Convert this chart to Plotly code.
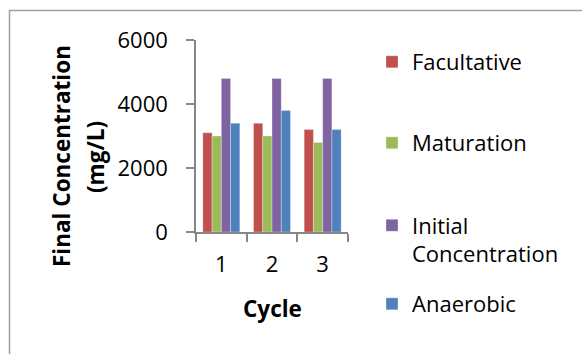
import plotly.graph_objects as go

cycles = ["1", "2", "3"]
series_names = ["Facultative", "Maturation", "Initial<br>Concentration", "Anaerobic"]
series_colors = ["#C0504D", "#9BBB59", "#8064A2", "#4F81BD"]
facultative = [3100, 3400, 3200]
maturation = [3000, 3000, 2800]
initial_conc = [4800, 4800, 4800]
anaerobic = [3400, 3800, 3200]
series_values = [facultative, maturation, initial_conc, anaerobic]

W, H = 582, 354
L, R, T, B = 196, 234, 40, 122
pw, ph = W - L - R, H - T - B

def px_x(x):
    return (x - L) / pw

def px_y(y):
    return (H - B - y) / ph

FONT = "Open Sans"
TXT = 22

fig = go.Figure()
legend_y = [62, 143, 240, 304]
legend_names = ["legend", "legend2", "legend3", "legend4"]
for name, color, vals, lg in zip(series_names, series_colors, series_values, legend_names):
    fig.add_trace(go.Bar(
        x=cycles, y=vals, name=name, legend=lg,
        marker=dict(color=color, line=dict(color="rgba(255,255,255,0.6)", width=0.5)),
    ))

legend_common = dict(
    xanchor="left", yanchor="middle", bgcolor="rgba(0,0,0,0)",
    font=dict(family=FONT, size=TXT, color="#000000"), valign="top",
)
layout_legends = {}
for lg, yy in zip(legend_names, legend_y):
    layout_legends[lg] = dict(x=px_x(372), y=px_y(yy), **legend_common)

fig.update_layout(
    width=W, height=H,
    margin=dict(l=L, r=R, t=T, b=B, autoexpand=False),
    paper_bgcolor="white", plot_bgcolor="white",
    barmode="group", bargap=0.27, bargroupgap=0,
    showlegend=True,
    font=dict(family=FONT, size=TXT, color="#000000"),
    xaxis=dict(
        type="category", showgrid=False, showline=True, linecolor="#868686", linewidth=1.5,
        ticks="outside", tickson="boundaries", ticklen=8, tickcolor="#868686", tickwidth=1.5,
        tickfont=dict(family=FONT, size=TXT), ticklabelstandoff=12,
    ),
    yaxis=dict(
        range=[0, 6000], dtick=2000, showgrid=False, zeroline=False,
        showline=True, linecolor="#868686", linewidth=1.5,
        ticks="outside", ticklen=8, tickcolor="#868686", tickwidth=1.5,
        tickfont=dict(family=FONT, size=TXT), ticklabelstandoff=14,
    ),
    **layout_legends,
)

# Axis titles
title_font = dict(family=FONT, size=22.5, color="#000000")
fig.add_annotation(text="<b>Final Concentration</b>", x=px_x(61), y=px_y(156), xref="paper", yref="paper",
                   xanchor="center", yanchor="middle", textangle=-90, showarrow=False, font=title_font)
fig.add_annotation(text="<b>(mg/L)</b>", x=px_x(95), y=px_y(157), xref="paper", yref="paper",
                   xanchor="center", yanchor="middle", textangle=-90, showarrow=False, font=title_font)
fig.add_annotation(text="<b>Cycle</b>", x=px_x(272), y=px_y(308), xref="paper", yref="paper",
                   xanchor="center", yanchor="middle", showarrow=False, font=title_font)

# Chart-area border
fig.add_shape(type="rect", xref="paper", yref="paper",
              x0=px_x(9.5), x1=px_x(700), y0=px_y(500), y1=px_y(10.5),
              line=dict(color="#A0A0A0", width=1.5), fillcolor="rgba(0,0,0,0)", layer="below")

fig.write_html("out.html")
